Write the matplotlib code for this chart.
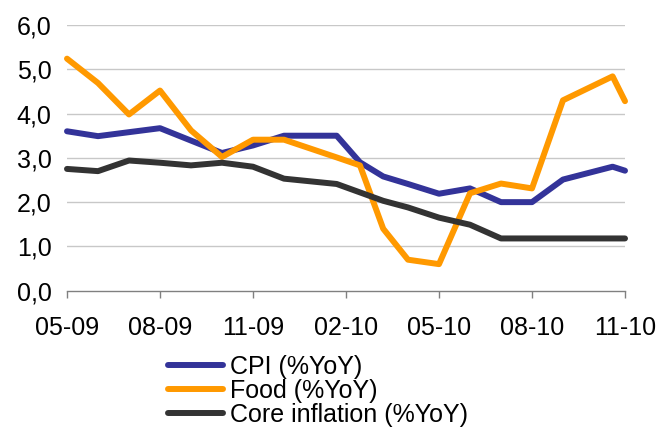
import matplotlib
matplotlib.use("Agg")
import matplotlib.pyplot as plt

# x positions in months since 05-09 (observation dates)
months = [0, 1, 2, 3, 4, 5, 6, 7, 8.7, 9.45, 10.2, 11, 12, 13, 14, 15, 16, 17.6, 18]
cpi = [3.6, 3.49, 3.58, 3.67, 3.39, 3.11, 3.28, 3.5, 3.5, 2.9, 2.58, 2.41, 2.19, 2.31,
       2.0, 2.0, 2.51, 2.8, 2.71]
food = [5.24, 4.69, 3.98, 4.52, 3.62, 3.02, 3.41, 3.41, 3.01, 2.83, 1.4, 0.7, 0.6, 2.2,
        2.42, 2.31, 4.3, 4.84, 4.28]
core = [2.75, 2.70, 2.94, 2.89, 2.83, 2.89, 2.8, 2.53, 2.41, 2.22, 2.03, 1.88, 1.65, 1.49,
        1.18, 1.18, 1.18, 1.18, 1.18]

tick_pos = [0, 3, 6, 9, 12, 15, 18]
tick_labels = ["05-09", "08-09", "11-09", "02-10", "05-10", "08-10", "11-10"]
y_ticks = [0, 1, 2, 3, 4, 5, 6]
y_labels = ["0,0", "1,0", "2,0", "3,0", "4,0", "5,0", "6,0"]

series_names = ["CPI (%YoY)", "Food (%YoY)", "Core inflation (%YoY)"]
colors = ["#333399", "#FF9900", "#333333"]

plt.rcParams["font.family"] = ["Liberation Sans", "DejaVu Sans"]

fig = plt.figure(figsize=(6.59, 4.30), dpi=100)
ax = fig.add_axes([67 / 659, 1 - 290.7 / 430, (625 - 67) / 659, (290.7 - 25) / 430])

for vals, c, name in zip([cpi, food, core], colors, series_names):
    ax.plot(months, vals, color=c, lw=4.3, label=name, solid_joinstyle="round",
            solid_capstyle="round", clip_on=False, zorder=3)

ax.set_xlim(0, 18)
ax.set_ylim(0, 6)
ax.set_yticks(y_ticks)
ax.set_yticklabels(y_labels)
ax.set_xticks(tick_pos)
ax.set_xticklabels(tick_labels)

for y in y_ticks[1:]:
    ax.axhline(y, color="#C8C8C8", lw=1.0, zorder=1)

for s in ["left", "right", "top"]:
    ax.spines[s].set_visible(False)
ax.spines["bottom"].set_color("#808080")
ax.spines["bottom"].set_linewidth(1.0)

ax.tick_params(axis="y", length=0, pad=11, labelsize=18, colors="black")
ax.tick_params(axis="x", direction="out", length=5, width=1.0, color="#808080",
               pad=13, labelsize=18, labelcolor="black")

fig.legend(loc="upper left", bbox_to_anchor=(168 / 659, 1 - 355 / 430),
           frameon=False, fontsize=18, labelspacing=0.0, handlelength=2.2,
           handletextpad=0.3, borderpad=0, borderaxespad=0)

fig.savefig("out.png", dpi=100)
